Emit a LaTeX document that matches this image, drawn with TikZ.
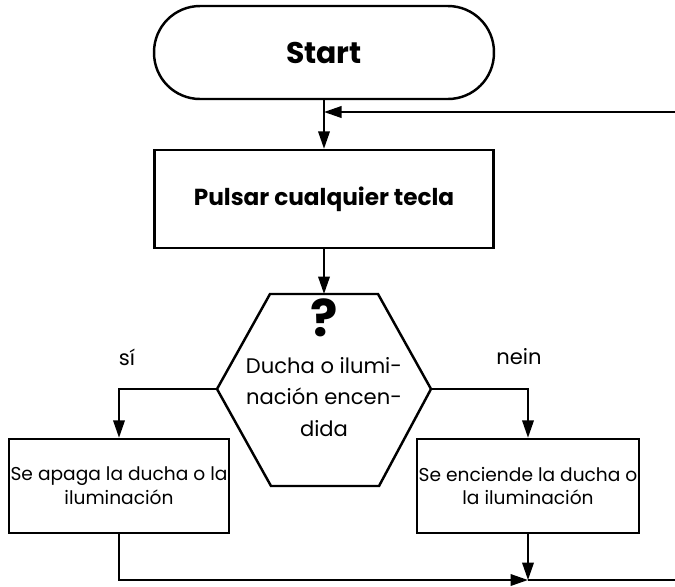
\documentclass[tikz,border=0pt]{standalone}
\usepackage{fontspec}
\setmainfont{Poppins}
\usetikzlibrary{arrows.meta, positioning}

\begin{document}
\begin{tikzpicture}[x=0.02cm, y=-0.02cm, line width=1.2pt,
    freccia/.style={-{Triangle[length=0.35cm, width=0.23cm]}},
    scatola/.style={draw, rectangle, line width=1.4pt, align=center, inner sep=1pt}]

        % Cornice fissa (stesse proporzioni del disegno)
        \useasboundingbox (0,0) rectangle (675,586);

        % ==========================================
        % IN ALTO: Inizio e prima azione
        % ==========================================

        % Terminale arrotondato
        \node[draw, line width=1.4pt, rounded corners=0.92cm, minimum width=6.8cm, minimum height=1.86cm,
              font=\fontsize{17}{19}\selectfont\bfseries] (inicio) at (324,52.5) {Start};

        % Azione
        \node[scatola, minimum width=6.78cm, minimum height=1.96cm,
              font=\fontsize{13.2}{15}\selectfont\bfseries] (pulsar) at (324,199) {Pulsar cualquier tecla};

        % ==========================================
        % CENTRO: Esagono della domanda
        % ==========================================

        % Vertici usati dalle frecce
        \coordinate (hexN) at (324,294);
        \coordinate (hexW) at (217,389);
        \coordinate (hexE) at (431,389);

        % Bordo dell'esagono (non regolare, piu' alto che largo)
        \draw[line width=1.4pt] (270,294) -- (378,294) -- (hexE) -- (379,486) -- (271,486) -- (hexW) -- cycle;

        \node[font=\fontsize{29}{30}\selectfont\bfseries] (signo) at (324,318) {?};
        \node[align=center, font=\fontsize{12}{18}\selectfont] (pregunta) at (324,397)
            {Ducha o ilumi-\\nación encen-\\dida};

        % Etichette dei due rami
        \node[font=\fontsize{12}{14}\selectfont] (si) at (127,357) {sí};
        \node[font=\fontsize{12}{14}\selectfont] (nein) at (519,357) {nein};

        % ==========================================
        % IN BASSO: Le due azioni
        % ==========================================

        \node[scatola, minimum width=4.32cm, minimum height=1.88cm,
              font=\fontsize{10.6}{13.5}\selectfont] (apagar) at (119,486) {Se apaga la ducha o la\\iluminación};
        \node[scatola, minimum width=4.28cm, minimum height=1.88cm,
              font=\fontsize{10.6}{13.5}\selectfont] (encender) at (528,486) {Se enciende la ducha o\\la iluminación};

        % ==========================================
        % Collegamenti
        % ==========================================

        \draw[freccia] (inicio) -- (pulsar);
        \draw[freccia] (pulsar) -- (hexN);
        \draw[freccia] (hexW) -| (apagar);
        \draw[freccia] (hexE) -| (encender);

        % Ritorno dal bordo destro (il ciclo esce dal disegno)
        \coordinate (ritorno) at (675,112);
        \draw[freccia] (ritorno) -- (ritorno -| inicio.south);

        % Linea di raccolta in basso
        \coordinate (fondo) at (675,580);
        \draw[freccia] (encender) -- (encender.south |- fondo);
        \draw[freccia] (apagar.south) |- (encender.south |- fondo);
        \draw (encender.south |- fondo) -- (fondo);

\end{tikzpicture}
\end{document}
